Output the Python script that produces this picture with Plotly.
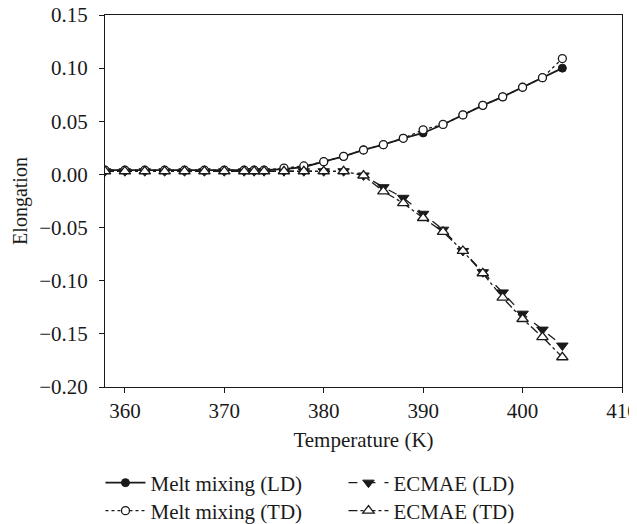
import plotly.graph_objects as go

temperature = [358, 360, 362, 364, 366, 368, 370, 372, 373, 374, 376, 378, 380, 382,
               384, 386, 388, 390, 392, 394, 396, 398, 400, 402, 404]

melt_ld = [0.004, 0.004, 0.004, 0.004, 0.004, 0.004, 0.004, 0.004, 0.004, 0.004, 0.005, 0.007,
           0.012, 0.017, 0.023, 0.028, 0.034, 0.039, 0.047, 0.056, 0.065, 0.073, 0.082, 0.091, 0.100]
melt_td = [0.004, 0.004, 0.004, 0.004, 0.004, 0.004, 0.004, 0.004, 0.004, 0.004, 0.006, 0.008,
           0.012, 0.017, 0.023, 0.028, 0.034, 0.042, 0.047, 0.056, 0.065, 0.073, 0.082, 0.091, 0.109]
ecmae_ld = [0.003, 0.003, 0.003, 0.003, 0.003, 0.003, 0.003, 0.003, 0.003, 0.003, 0.003, 0.003,
            0.003, 0.003, -0.001, -0.012, -0.022, -0.037, -0.052, -0.072, -0.092, -0.111, -0.131, -0.146, -0.161]
ecmae_td = [0.003, 0.003, 0.003, 0.003, 0.003, 0.003, 0.003, 0.003, 0.003, 0.003, 0.003, 0.003,
            0.003, 0.003, -0.001, -0.016, -0.027, -0.041, -0.054, -0.072, -0.093, -0.116, -0.136, -0.153, -0.172]

y_ticks = [0.15, 0.10, 0.05, 0.00, -0.05, -0.10, -0.15, -0.20]
x_ticks = [360, 370, 380, 390, 400, 410]

INK = "#1a1a1a"
FONT = "Liberation Serif"
FS = 21

fig = go.Figure()

fig.add_trace(go.Scatter(
    x=temperature, y=melt_ld, name="Melt mixing (LD)", mode="lines+markers", legend="legend",
    line=dict(color=INK, width=1.8, dash="solid"),
    marker=dict(symbol="circle", size=8, color=INK, line=dict(color=INK, width=1))))
fig.add_trace(go.Scatter(
    x=temperature, y=ecmae_ld, name="ECMAE (LD)", mode="lines+markers", legend="legend",
    line=dict(color=INK, width=1.3, dash="dash"),
    marker=dict(symbol="triangle-down", size=10, color=INK, line=dict(color=INK, width=1))))
fig.add_trace(go.Scatter(
    x=temperature, y=melt_td, name="Melt mixing (TD)", mode="lines+markers", legend="legend2",
    line=dict(color=INK, width=1.3, dash="dot"),
    marker=dict(symbol="circle", size=8, color="white", line=dict(color=INK, width=1.3))))
fig.add_trace(go.Scatter(
    x=temperature, y=ecmae_td, name="ECMAE (TD)", mode="lines+markers", legend="legend2",
    line=dict(color=INK, width=1.3, dash="dashdot"),
    marker=dict(symbol="triangle-up", size=10, color="white", line=dict(color=INK, width=1.3))))

legend_common = dict(orientation="h", xanchor="left", yanchor="middle",
                     xref="container", yref="container",
                     entrywidth=188, entrywidthmode="pixels", itemwidth=40,
                     font=dict(family=FONT, size=FS, color=INK),
                     bgcolor="rgba(0,0,0,0)", borderwidth=0)

# the page body has an 8px default margin, so the figure is 8px smaller than the window
fig.update_layout(
    width=629, height=516,
    margin=dict(l=97, r=15, t=7, b=137, autoexpand=False),
    paper_bgcolor="white", plot_bgcolor="white",
    font=dict(family=FONT, size=FS, color=INK),
    showlegend=True,
    legend=dict(x=0.147, y=0.0795, **legend_common),
    legend2=dict(x=0.147, y=0.0252, **legend_common),
)

fig.update_xaxes(
    range=[358, 410], tickvals=x_ticks, ticktext=[str(v) for v in x_ticks],
    showgrid=False, zeroline=False, showline=True, linecolor=INK, linewidth=1,
    mirror=True, ticks="outside", ticklen=5, tickcolor=INK, ticklabeloverflow="allow",
    tickfont=dict(family=FONT, size=FS, color=INK),
    title=dict(text="Temperature (K)", standoff=10, font=dict(family=FONT, size=FS, color=INK)))
fig.update_yaxes(
    range=[-0.2, 0.15], tickvals=y_ticks, tickformat=".2f",
    showgrid=False, zeroline=False, showline=True, linecolor=INK, linewidth=1,
    mirror=True, ticks="outside", ticklen=5, tickcolor=INK, ticklabelstandoff=7,
    ticklabeloverflow="allow",
    tickfont=dict(family=FONT, size=FS, color=INK),
    title=dict(text="Elongation", standoff=6, font=dict(family=FONT, size=20, color=INK)))

fig.write_html("out.html")
